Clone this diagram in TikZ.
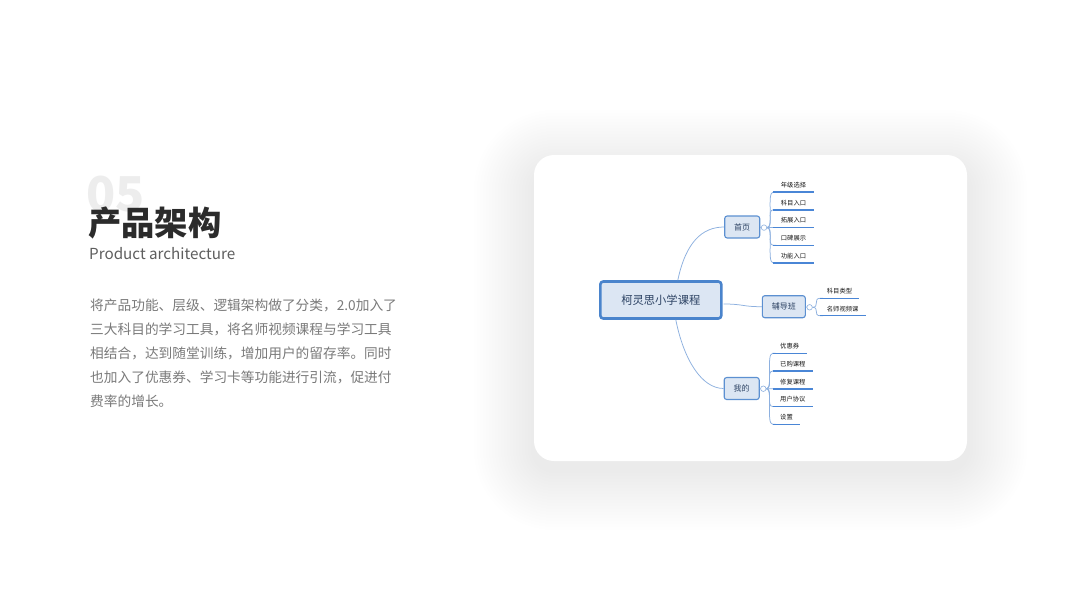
\documentclass[tikz,border=0pt]{standalone}
\usepackage{fontspec}
\setmainfont{Noto Sans CJK SC}
\usepackage{tikz}
\usetikzlibrary{positioning, calc}

\definecolor{rootline}{HTML}{4A84CC}
\definecolor{boxfill}{HTML}{DCE6F3}
\definecolor{boxtext}{HTML}{2C4263}
\definecolor{twig}{HTML}{8DB0DF}
\definecolor{ulblue}{HTML}{4A86D6}
\definecolor{bodygrey}{HTML}{7A7A7A}

\tikzset{
  rootbox/.style={draw=rootline, line width=2.6pt, fill=boxfill, rounded corners=3pt,
    minimum width=121pt, minimum height=37pt, text=boxtext, font=\fontsize{11.3}{12}\selectfont},
  subbox/.style={draw=rootline!90, line width=1.1pt, fill=boxfill, rounded corners=2.5pt,
    minimum height=22pt, inner xsep=9.5pt, text=boxtext, font=\fontsize{8}{9}\selectfont},
  knob/.style={circle, draw=twig, fill=white, line width=0.6pt, inner sep=0pt, minimum size=5.5pt},
  leaf/.style={anchor=west, inner sep=0pt, text=black!90, font=\fontsize{6.3}{7}\selectfont},
  twigline/.style={draw=twig, line width=0.75pt},
  uline/.style={draw=ulblue, line width=1.5pt},
}

\begin{document}
\begin{tikzpicture}[x=1pt, y=-1pt]
  \useasboundingbox[fill=white] (0,0) rectangle (1067,600);

  % Heading and text
  \node[anchor=base west, inner sep=0pt, text=black!7, font=\fontsize{48}{48}\selectfont\bfseries] (num) at (86,211) {05};
  \node[anchor=base west, inner sep=0pt, text=black!83, font=\fontsize{33.3}{34}\selectfont\bfseries] (title) at (88,235.6) {产品架构};
  \node[anchor=base west, inner sep=0pt, text=black!63, font=\fontsize{15.2}{16}\selectfont] (subtitle) at (89,259) {Product architecture};
  \foreach \t [count=\i] in {将产品功能、层级、逻辑架构做了分类，2.0加入了,
      三大科目的学习工具，将名师视频课程与学习工具,
      相结合，达到随堂训练，增加用户的留存率。同时,
      也加入了优惠券、学习卡等功能进行引流，促进付,
      费率的增长。}
    \node[anchor=base west, inner sep=0pt, text=bodygrey, font=\fontsize{13.7}{14}\selectfont] (line\i) at (90,310.5+24.1*\i-24.1) {\t};

  % Card
  \foreach \s in {1,...,20}
    \fill[black, opacity=0.004, rounded corners=20pt+3*\s] (534-3*\s,170-3*\s) rectangle (967+3*\s,470+3*\s);
  \fill[white, rounded corners=20pt] (534,155) rectangle (967,461);

  % Main topics
  \node[rootbox] (root) at (660.8,300) {柯灵思小学课程};
  \node[subbox] (home) at (742.2,227) {首页};
  \node[subbox] (tutor) at (783.8,306.7) {辅导班};
  \node[subbox] (mine) at (741.7,388.5) {我的};

  \draw[twigline] ($(root.north)+(17,0)$) .. controls +(8,-38) and +(-22,0) .. (home.west);
  \draw[twigline] ($(root.east)+(1,4)$) .. controls +(20,0) and +(-20,0) .. (tutor.west);
  \draw[twigline] ($(root.south)+(15,0)$) .. controls +(8,40) and +(-22,0) .. (mine.west);

  \node[knob] (homek) at (764,227.6) {};
  \node[knob] (tutork) at (809.6,307.3) {};
  \node[knob] (minek) at (763.3,388.7) {};
  \draw[twigline] (home.east) -- (homek.west);
  \draw[twigline] (tutor.east) -- (tutork.west);
  \draw[twigline] (mine.east) -- (minek.west);

  % Leaves
  \foreach \t [count=\i] in {年级选择,科目入口,拓展入口,口碑展示,功能入口} {
    \coordinate (hl\i) at (773.3,192+17.75*\i-17.75);
    \draw[twigline] (homek.east) .. controls +(7,0) and +(-7,0) .. (hl\i) -- ++(3,0);
    \draw[uline] (hl\i) -- ++(40.4,0);
    \node[leaf] (hlt\i) at ($(hl\i)+(7.4,-7)$) {\t};
  }
  \foreach \t/\w [count=\i] in {科目类型/39.3,名师视频课/45.7} {
    \coordinate (tl\i) at (820,298.3+17.4*\i-17.4);
    \draw[twigline] (tutork.east) .. controls +(7,0) and +(-7,0) .. (tl\i) -- ++(3,0);
    \draw[uline] (tl\i) -- ++(\w,0);
    \node[leaf] (tlt\i) at ($(tl\i)+(6.7,-7)$) {\t};
  }
  \foreach \t/\w [count=\i] in {优惠券/34,已购课程/40.3,修复课程/40.3,用户协议/40.3,设置/27.6} {
    \coordinate (ml\i) at (772.7,353.3+17.75*\i-17.75);
    \draw[twigline] (minek.east) .. controls +(7,0) and +(-7,0) .. (ml\i) -- ++(3,0);
    \draw[uline] (ml\i) -- ++(\w,0);
    \node[leaf] (mlt\i) at ($(ml\i)+(7.3,-7)$) {\t};
  }
\end{tikzpicture}
\end{document}
